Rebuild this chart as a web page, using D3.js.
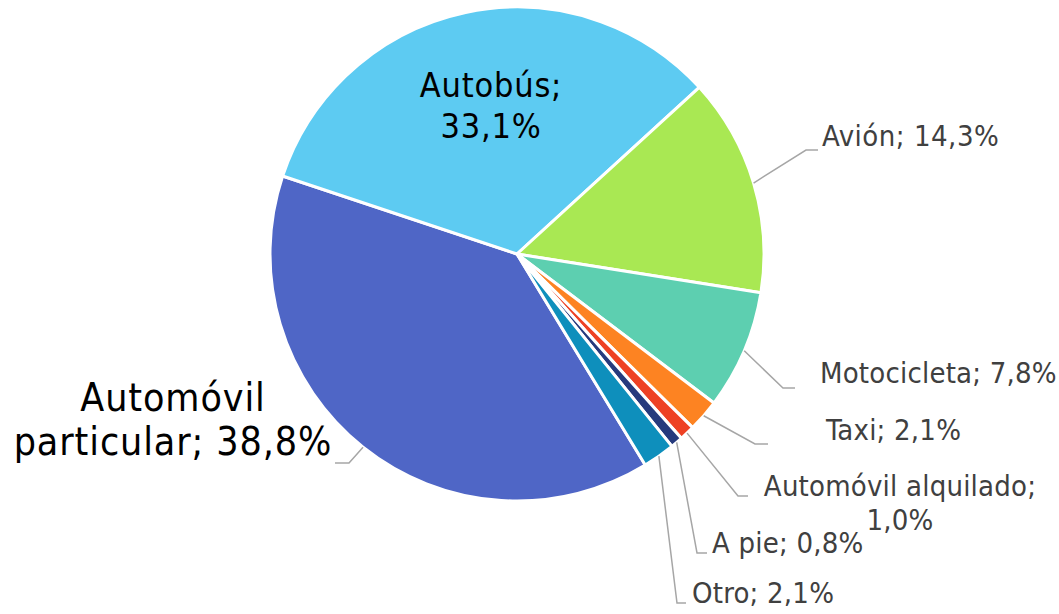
<!DOCTYPE html>
<html><head><meta charset="utf-8">
<script src="https://cdn.jsdelivr.net/npm/d3@7"></script>
<style>body{margin:0;background:#fff;}svg{display:block;}text{font-family:"DejaVu Sans Condensed","DejaVu Sans",sans-serif;}</style>
</head><body>
<svg id="c" width="1059" height="614"></svg>
<script>
const categories = ["Automóvil particular","Autobús","Avión","Motocicleta","Taxi","Automóvil alquilado","A pie","Otro"];
const values = [38.8,33.1,14.3,7.8,2.1,1.0,0.8,2.1];
const colors = ["#4F66C6","#5DCBF2","#A9E853","#5DCFB0","#FD8322","#EE4124","#263A7D","#0E8FBC"];
const labelLines = [["Automóvil","particular; 38,8%"],["Autobús;","33,1%"],["Avión; 14,3%"],["Motocicleta; 7,8%"],["Taxi; 2,1%"],["Automóvil alquilado;","1,0%"],["A pie; 0,8%"],["Otro; 2,1%"]];

// layout (not data)
const cx = 517, cy = 254, R = 247;
const startAngle = 148.72 * Math.PI/180;
const labelLayout = [
  {x:173, y:411, lh:44, size:39, ls:0.9, anchor:"middle", color:"#000", elbow:[349,463], end:[335,463]},
  {x:491, y:97, lh:41, size:34, ls:0.8, anchor:"middle", color:"#000"},
  {x:822, y:146, lh:0, size:29, ls:0.5, anchor:"start", color:"#404040", elbow:[806,150], end:[818,150]},
  {x:820, y:383, lh:0, size:29, ls:0.2, anchor:"start", color:"#404040", elbow:[783,388], end:[795,388]},
  {x:826, y:440, lh:0, size:29, ls:0.2, anchor:"start", color:"#404040", elbow:[755,444], end:[768,444]},
  {x:900, y:496, lh:34, size:29, ls:0.2, anchor:"middle", color:"#404040", elbow:[738,496], end:[748,496]},
  {x:712, y:553, lh:0, size:29, ls:0.2, anchor:"start", color:"#404040", elbow:[697,553], end:[707,553]},
  {x:692, y:603, lh:0, size:29, ls:0.2, anchor:"start", color:"#404040", elbow:[677,603], end:[686,603]}
];

const svg = d3.select("#c");
const g = svg.append("g").attr("transform",`translate(${cx},${cy})`);
const pie = d3.pie().sort(null).value(d=>d).startAngle(startAngle).endAngle(startAngle+2*Math.PI);
const arcs = pie(values);
const arc = d3.arc().innerRadius(0).outerRadius(R);

g.selectAll("path.slice").data(arcs).join("path")
  .attr("class","slice").attr("d",arc)
  .attr("fill",(d,i)=>colors[i]).attr("stroke","#fff").attr("stroke-width",3).attr("stroke-linejoin","round");

// leader lines
arcs.forEach((d,i)=>{
  const L = labelLayout[i];
  if(!L.elbow) return;
  const a = (d.startAngle+d.endAngle)/2;
  const p0 = [cx + R*Math.sin(a), cy - R*Math.cos(a)];
  svg.append("polyline")
    .attr("points",[p0,L.elbow,L.end].map(p=>p.join(",")).join(" "))
    .attr("fill","none").attr("stroke","#A6A6A6").attr("stroke-width",1.5);
});

// labels
labelLines.forEach((lines,i)=>{
  const L = labelLayout[i];
  const t = svg.append("text").attr("x",L.x).attr("y",L.y)
    .attr("text-anchor",L.anchor).attr("font-size",L.size).attr("fill",L.color)
    .attr("letter-spacing",L.ls);
  lines.forEach((s,j)=>{
    t.append("tspan").attr("x",L.x).attr("y",L.y + j*L.lh).text(s);
  });
});
</script>
</body></html>
